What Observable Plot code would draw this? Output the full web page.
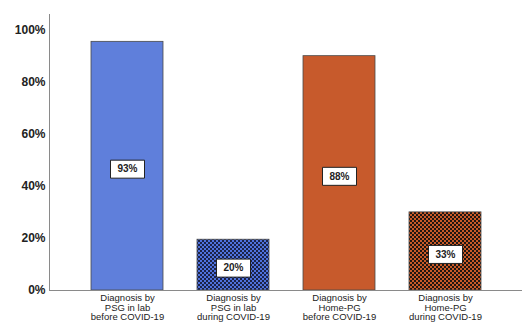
<!DOCTYPE html>
<html>
<head>
<meta charset="utf-8">
<script src="https://cdn.jsdelivr.net/npm/d3@7"></script>
<script src="https://cdn.jsdelivr.net/npm/@observablehq/plot@0.6"></script>
<style>
  html, body { margin: 0; padding: 0; background: #fff; }
  #chart { width: 522px; height: 325px; }
</style>
</head>
<body>
<div id="chart"></div>
<script>
// Categories (x axis tick labels, multi-line)
const categories = [
  "Diagnosis by\nPSG in lab\nbefore COVID-19",
  "Diagnosis by\nPSG in lab\nduring COVID-19",
  "Diagnosis by\nHome-PG\nbefore COVID-19",
  "Diagnosis by\nHome-PG\nduring COVID-19"
];
// Bar heights as drawn (percent)
const values = [95.5, 19.5, 90, 30];
// Printed data labels
const labels = ["93%", "20%", "88%", "33%"];
// Y tick values
const yTicks = [0, 20, 40, 60, 80, 100];

const data = categories.map((c, i) => ({cat: c, value: values[i], label: labels[i]}));

const labelBox = {
  draw(context) { context.rect(-17, -9, 34, 18); }
};

const plot = Plot.plot({
  width: 522,
  height: 325,
  marginLeft: 49,
  marginRight: 0,
  marginTop: 14,
  marginBottom: 35,
  style: {fontFamily: "Arial, 'Liberation Sans', sans-serif", background: "#fff", color: "#222"},
  x: {type: "band", domain: categories, paddingInner: 0.325, paddingOuter: 0.38, label: null},
  y: {domain: [0, 106], label: null},
  color: {type: "ordinal", domain: categories, range: ["#5f7fdb", "url(#checkBlue)", "#c75a2c", "url(#checkOrange)"]},
  marks: [
    Plot.barY(data, {x: "cat", y: "value", fill: "cat", stroke: "#4a4a4a", strokeWidth: 0.8}),
    Plot.frame({anchor: "left", stroke: "#8a8a8a"}),
    Plot.ruleY([0], {stroke: "#8a8a8a"}),
    Plot.dot(data, {x: "cat", y: d => d.value / 2, dy: 3, symbol: labelBox, fill: "#fff", stroke: "#222", strokeWidth: 1}),
    Plot.text(data, {x: "cat", y: d => d.value / 2, dy: 3, text: "label", fontWeight: "bold", fontSize: 10, fill: "#222"}),
    Plot.axisY({ticks: yTicks, tickFormat: d => d + "%", tickSize: 0, tickPadding: 4, fontSize: 12, fontWeight: "bold", label: null}),
    Plot.axisX({tickSize: 0, tickPadding: 4, fontSize: 9.5, lineHeight: 1, label: null})
  ]
});

const ns = "http://www.w3.org/2000/svg";
const svgEl = plot.tagName.toLowerCase() === "svg" ? plot : plot.querySelector("svg");
const defs = document.createElementNS(ns, "defs");
defs.innerHTML = `
  <pattern id="checkBlue" width="4" height="4" patternUnits="userSpaceOnUse">
    <rect width="4" height="4" fill="#1b2348"/>
    <rect width="2" height="2" fill="#4f72dc"/>
    <rect x="2" y="2" width="2" height="2" fill="#4f72dc"/>
  </pattern>
  <pattern id="checkOrange" width="4" height="4" patternUnits="userSpaceOnUse">
    <rect width="4" height="4" fill="#1e1612"/>
    <rect width="2" height="2" fill="#c85a28"/>
    <rect x="2" y="2" width="2" height="2" fill="#c85a28"/>
  </pattern>`;
svgEl.insertBefore(defs, svgEl.firstChild);

document.getElementById("chart").appendChild(plot);
</script>
</body>
</html>
